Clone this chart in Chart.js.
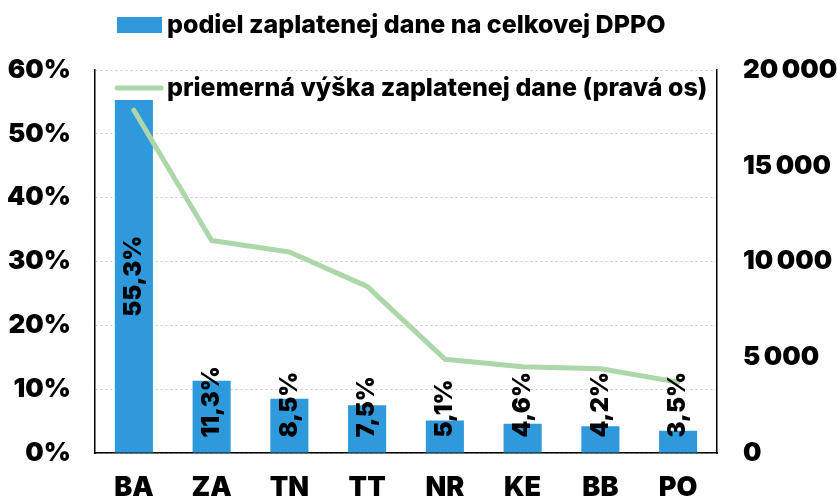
<!DOCTYPE html>
<html><head><meta charset="utf-8">
<script src="https://cdn.jsdelivr.net/npm/chart.js@4.4.1/dist/chart.umd.min.js"></script>
<style>html,body{margin:0;padding:0;background:#fff}#wrap{width:837px;height:501px}</style>
</head><body><div id="wrap"><canvas id="c" width="837" height="501"></canvas></div>
<script>
const categories = ['BA','ZA','TN','TT','NR','KE','BB','PO'];
const shareTax = [55.3, 11.3, 8.5, 7.5, 5.1, 4.6, 4.2, 3.5];
const avgTax = [17900, 11100, 10500, 8700, 4900, 4500, 4400, 3700];
const seriesNames = ['podiel zaplatenej dane na celkovej DPPO', 'priemerná výška zaplatenej dane (pravá os)'];
const leftTicks = [0, 10, 20, 30, 40, 50, 60];
const rightTicks = [0, 5000, 10000, 15000, 20000];

const FONT = 'Inter, Roboto, "Liberation Sans", sans-serif';
const W = '800';
const WH = '900';
const BLUE = '#2E9ADC';
const GREEN = '#ADD6A9';

const labelPlugin = {
  id: 'barLabels',
  afterDatasetsDraw(chart) {
    const ctx = chart.ctx;
    const meta = chart.getDatasetMeta(0);
    ctx.save();
    ctx.font = WH + ' 24px ' + FONT;
    ctx.fillStyle = '#000';
    ctx.textBaseline = 'middle';
    meta.data.forEach((bar, i) => {
      const txt = shareTax[i].toFixed(1).replace('.', ',') + '%';
      const w = ctx.measureText(txt).width;
      const h = bar.base - bar.y;
      ctx.save();
      ctx.translate(bar.x, 0);
      ctx.rotate(-Math.PI / 2);
      if (w + 30 < h) {
        ctx.textAlign = 'center';
        ctx.fillText(txt, -(bar.base + bar.y) / 2, 0);
      } else {
        ctx.textAlign = 'left';
        ctx.fillText(txt, -(bar.base - 15), 0);
      }
      ctx.restore();
    });
    ctx.restore();
  }
};

const legendPlugin = {
  id: 'customLegend',
  afterDraw(chart) {
    const ctx = chart.ctx;
    ctx.save();
    ctx.font = W + ' 25px ' + FONT;
    ctx.textBaseline = 'middle';
    ctx.textAlign = 'left';
    ctx.fillStyle = BLUE;
    ctx.fillRect(117, 17, 45, 16);
    ctx.fillStyle = '#000';
    ctx.fillText(seriesNames[0], 167, 25);
    ctx.strokeStyle = GREEN;
    ctx.lineWidth = 5;
    ctx.lineCap = 'round';
    ctx.beginPath();
    ctx.moveTo(117, 88);
    ctx.lineTo(161, 88);
    ctx.stroke();
    ctx.fillText(seriesNames[1], 167, 88);
    ctx.restore();
  }
};

new Chart(document.getElementById('c'), {
  data: {
    labels: categories,
    datasets: [
      { type: 'bar', label: seriesNames[0], data: shareTax, backgroundColor: BLUE, yAxisID: 'y', order: 1,
        categoryPercentage: 1, barPercentage: 0.49 },
      { type: 'line', label: seriesNames[1], data: avgTax, borderColor: GREEN, borderWidth: 5, pointRadius: 0,
        tension: 0, yAxisID: 'y1', order: 0, borderCapStyle: 'round', borderJoinStyle: 'round' }
    ]
  },
  options: {
    responsive: false,
    animation: false,
    layout: { padding: { top: 70, left: 0, right: 0, bottom: 0 } },
    plugins: { legend: { display: false }, tooltip: { enabled: false } },
    scales: {
      x: {
        grid: { display: false, drawTicks: false },
        border: { display: true, color: '#000', width: 1.5 },
        ticks: { color: '#000', font: { family: FONT, size: 27, weight: WH }, padding: 19, maxRotation: 0 },
        afterFit: s => { s.height = 48; }
      },
      y: {
        position: 'left', min: 0, max: 60,
        afterBuildTicks: s => { s.ticks = leftTicks.map(v => ({ value: v })); },
        grid: { color: '#c8c8c8', lineWidth: 1, drawTicks: false },
        border: { display: true, color: '#000', width: 1.5, dash: [2, 3] },
        ticks: { color: '#000', font: { family: FONT, size: 26, weight: WH }, padding: 24, callback: v => v + '%' },
        afterFit: s => { s.width = 95; }
      },
      y1: {
        position: 'right', min: 0, max: 20000,
        afterBuildTicks: s => { s.ticks = rightTicks.map(v => ({ value: v })); },
        grid: { display: false, drawTicks: false },
        border: { display: true, color: '#000', width: 1.5 },
        ticks: { color: '#000', font: { family: FONT, size: 26, weight: WH }, padding: 26,
          callback: v => v >= 1000 ? Math.floor(v / 1000) + '\u2009' + String(v % 1000).padStart(3, '0') : String(v) },
        afterFit: s => { s.width = 120; }
      }
    }
  },
  plugins: [labelPlugin, legendPlugin]
});
</script></body></html>
